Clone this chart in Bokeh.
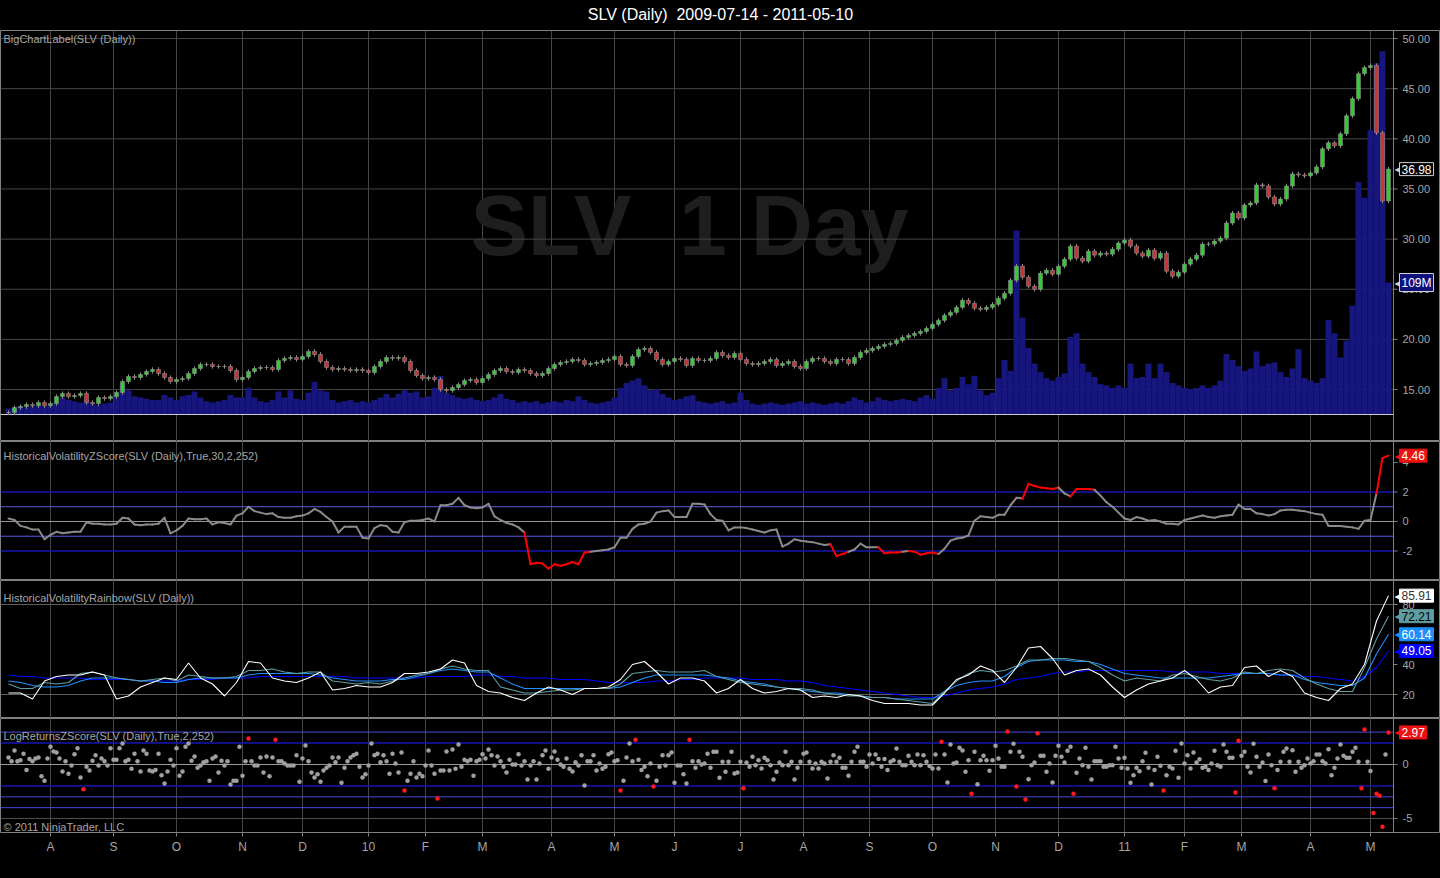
from bokeh.plotting import figure
from bokeh.models import Range1d, FixedTicker, Span, Label
from bokeh.layouts import column
from bokeh.embed import file_html
from bokeh.resources import INLINE
from bokeh.core.properties import value

# ---------------- data ----------------
title_text = "SLV (Daily) \u00a02009-07-14 - 2011-05-10"
month_ticks = [14, 35, 56, 78, 98, 120, 139, 158, 181, 202, 222, 244, 265, 287,
               308, 329, 350, 372, 392, 411, 434, 454]
month_labels = ["A", "S", "O", "N", "D", "10", "F", "M", "A", "M", "J", "J", "A", "S",
                "O", "N", "D", "11", "F", "M", "A", "M"]
price_ticks = [15, 20, 25, 30, 35, 40, 45, 50]
price_labels = ["15.00", "20.00", "25.00", "30.00", "35.00", "40.00", "45.00", "50.00"]
zs_ticks = [4, 2, 0, -2]
zs_labels = ["4", "2", "0", "-2"]
hv_ticks = [20, 40, 80]
hv_labels = ["20", "40", "80"]
lr_ticks = [0, -5]
lr_labels = ["0", "-5"]

# bar index of each (two-day) candle
bar_x = list(range(0, 461, 2))
closes = [
    12.7, 13.2, 13.3, 13.5, 13.4, 13.7, 13.4, 13.6, 14.3, 14.6,
    14.3, 14.4, 14.6, 13.7, 13.6, 14.2, 14.1, 14.3, 14.7, 15.8,
    16.3, 16.2, 16.5, 16.8, 17.0, 16.6, 16.2, 15.8, 16.0, 16.1,
    16.6, 17.1, 17.5, 17.5, 17.3, 17.3, 17.3, 16.9, 16.0, 16.2,
    16.8, 17.1, 17.2, 17.2, 17.0, 17.9, 18.1, 18.2, 18.0, 18.3,
    18.8, 18.5, 17.8, 17.2, 17.0, 17.1, 17.0, 16.9, 17.0, 16.9,
    16.7, 17.3, 17.8, 18.2, 18.1, 18.2, 17.8, 16.9, 16.4, 16.1,
    16.2, 16.0, 15.0, 14.9, 15.2, 15.5, 15.9, 16.0, 15.7, 16.1,
    16.5, 16.9, 17.1, 16.8, 16.7, 17.0, 16.9, 16.6, 16.4, 16.6,
    17.1, 17.5, 17.7, 17.8, 18.0, 17.9, 17.5, 17.6, 17.7, 17.9,
    18.0, 18.3, 17.5, 17.4, 18.3, 19.0, 19.1, 18.7, 18.0, 17.5,
    17.8, 18.1, 18.0, 17.4, 18.1, 17.9, 17.9, 18.1, 18.7, 18.4,
    18.2, 18.6, 18.0, 17.6, 17.5, 17.6, 17.8, 18.0, 17.4, 17.6,
    17.8, 17.3, 17.1, 17.8, 18.1, 18.1, 17.8, 17.6, 18.0, 18.0,
    17.6, 18.2, 18.7, 18.9, 19.1, 19.3, 19.5, 19.6, 19.9, 20.2,
    20.4, 20.6, 20.8, 21.1, 21.5, 21.9, 22.4, 22.7, 23.2, 23.9,
    23.6, 23.1, 23.0, 23.2, 23.5, 24.1, 24.6, 25.9, 27.3, 26.2,
    25.3, 25.0, 26.6, 26.9, 26.5, 27.3, 28.0, 29.3, 28.1, 27.8,
    28.8, 28.4, 28.6, 28.5, 29.0, 29.6, 29.9, 29.3, 28.6, 28.3,
    28.9, 28.1, 28.6, 26.8, 26.3, 26.7, 27.5, 28.0, 28.4, 29.5,
    29.5, 29.8, 30.1, 31.6, 32.6, 32.1, 33.4, 33.6, 35.4, 35.3,
    34.2, 33.5, 34.0, 35.3, 36.5, 36.4, 36.3, 36.6, 37.2, 39.0,
    39.6, 39.3, 40.5, 42.3, 44.0, 46.5, 47.1, 47.3, 40.6, 33.8,
    36.98,
]
volume_m = [
    5, 6, 7, 6, 7, 8, 7, 9, 10, 14,
    12, 11, 10, 12, 9, 8, 9, 10, 18, 25,
    20, 15, 14, 13, 12, 12, 16, 14, 12, 15,
    16, 19, 14, 11, 10, 11, 12, 16, 14, 14,
    22, 14, 11, 10, 12, 19, 14, 20, 13, 12,
    18, 27, 20, 19, 12, 10, 11, 12, 10, 11,
    10, 12, 14, 17, 14, 17, 20, 18, 19, 14,
    15, 22, 32, 18, 16, 14, 13, 14, 12, 11,
    12, 14, 17, 13, 12, 10, 11, 10, 11, 9,
    10, 11, 10, 12, 11, 15, 12, 10, 9, 10,
    11, 14, 22, 26, 28, 30, 24, 20, 21, 17,
    14, 12, 13, 15, 16, 11, 10, 9, 10, 11,
    9, 10, 18, 12, 9, 8, 9, 10, 9, 8,
    9, 10, 11, 9, 10, 9, 8, 9, 10, 9,
    11, 14, 12, 10, 11, 14, 12, 11, 12, 13,
    12, 11, 14, 16, 13, 22, 30, 20, 22, 31,
    25, 32, 20, 16, 18, 30, 45, 36, 152, 80,
    55, 42, 35, 30, 28, 31, 34, 64, 67, 42,
    35, 31, 25, 24, 22, 24, 22, 42, 30, 31,
    42, 30, 42, 35, 26, 24, 22, 21, 22, 24,
    22, 24, 28, 50, 45, 40, 36, 38, 52, 40,
    42, 43, 35, 31, 38, 54, 30, 28, 26, 30,
    78, 67, 47, 61, 90, 192, 179, 235, 290, 300,
    109,
]
# HistoricalVolatilityZScore, same two-day steps as bar_x
hv_zscore = [
    0.2, 0.1, -0.3, -0.4, -0.55, -0.55, -1.2, -0.9, -0.7, -0.8,
    -0.75, -0.7, -0.7, -0.05, -0.15, -0.15, -0.2, -0.2, -0.15, 0.25,
    0.2, -0.2, -0.25, -0.2, -0.2, -0.15, 0.25, -0.8, -0.6, -0.3,
    0.2, 0.15, 0.15, 0.2, -0.2, -0.05, -0.1, -0.2, 0.4, 0.55,
    1.0, 0.7, 0.6, 0.5, 0.55, 0.3, 0.25, 0.25, 0.35, 0.4,
    0.55, 0.85, 0.65, 0.3, 0.0, -0.75, -0.35, -0.35, -0.35, -1.1,
    -1.15, -0.45, -0.25, -0.3, -0.7, -0.75, -0.05, 0.05, 0.05, 0.1,
    0.2, 0.0, 1.1, 1.1, 1.2, 1.6, 1.1, 0.95, 0.9, 0.95,
    1.2, 0.35, 0.1, -0.1, -0.2, -0.4, -0.75, -2.9, -2.8, -2.85,
    -3.2, -2.9, -3.0, -2.9, -2.75, -2.9, -2.1, -2.05, -2.0, -1.95,
    -1.9, -1.75, -1.1, -1.1, -0.5, -0.2, -0.15, 0.0, 0.6, 0.7,
    0.75, 0.3, 0.3, 0.3, 1.2, 1.2, 1.15, 0.5, 0.1, 0.05,
    -0.6, -0.4, -0.4, -0.45, -0.55, -0.65, -0.75, -0.6, -0.55, -1.7,
    -1.5, -1.2, -1.3, -1.35, -1.4, -1.5, -1.6, -1.55, -2.35, -2.2,
    -2.05, -1.9, -1.5, -1.75, -1.75, -1.75, -2.15, -2.1, -2.1, -2.05,
    -2.0, -2.05, -2.25, -2.15, -2.1, -2.2, -1.85, -1.3, -1.15, -1.1,
    -0.95, 0.05, 0.35, 0.3, 0.25, 0.45, 0.45, 1.1, 1.6, 1.55,
    2.55, 2.4, 2.3, 2.25, 2.2, 2.3, 1.9, 1.7, 2.2, 2.2,
    2.2, 2.15, 1.75, 1.3, 1.0, 0.6, 0.2, 0.1, 0.3, 0.2,
    0.05, 0.1, 0.0, -0.15, -0.15, -0.2, 0.1, 0.2, 0.3, 0.4,
    0.3, 0.25, 0.35, 0.4, 0.45, 1.15, 0.85, 0.85, 0.55, 0.5,
    0.4, 0.5, 0.75, 0.8, 0.8, 0.75, 0.7, 0.6, 0.5, 0.45,
    -0.3, -0.3, -0.3, -0.35, -0.4, -0.5, 0.05, 0.1, 1.9, 4.3,
    4.46,
]
# HistoricalVolatilityRainbow, four-day steps
rb_x = list(range(0, 461, 4))
hv_white = [
    21, 21, 17, 29, 32, 33, 33, 35, 33, 17,
    19, 25, 28, 31, 30, 41, 31, 27, 19, 28,
    42, 41, 31, 29, 28, 31, 35, 23, 24, 26,
    25, 25, 28, 34, 34, 35, 37, 43, 41, 26,
    22, 21, 18, 16, 21, 25, 23, 20, 24, 24,
    25, 30, 40, 42, 35, 27, 31, 31, 29, 21,
    24, 30, 24, 21, 22, 24, 23, 18, 19, 18,
    20, 19, 16, 14, 14, 14, 13, 13, 21, 30,
    33, 39, 36, 28, 38, 51, 52, 44, 33, 36,
    37, 33, 25, 18, 23, 27, 29, 31, 36, 30,
    21, 25, 26, 38, 39, 32, 36, 32, 21, 18,
    16, 24, 27, 40, 69, 85.91,
]
hv_cadet = [
    27, 24, 24, 28, 27, 28, 34, 35, 33, 31,
    30, 29, 30, 31, 29, 33, 32, 31, 31, 32,
    36, 36, 37, 35, 34, 35, 35, 29, 28, 27,
    28, 27, 29, 31, 33, 34, 37, 39, 37, 36,
    36, 25, 23, 21, 21, 22, 23, 23, 24, 24,
    24, 27, 34, 35, 36, 35, 35, 35, 36, 32,
    30, 28, 27, 26, 25, 24, 24, 23, 21, 20,
    19, 19, 18, 18, 17, 16, 15, 14, 22, 29,
    34, 36, 35, 36, 39, 43, 43, 44, 44, 43,
    42, 38, 33, 29, 31, 30, 29, 33, 34, 32,
    30, 29, 31, 35, 34, 36, 37, 36, 31, 27,
    24, 22, 22, 38, 57, 72.21,
]
hv_dodger = [
    29, 28, 26, 25, 25, 26, 29, 31, 31, 31,
    30, 29, 29, 28, 28, 30, 31, 31, 31, 31,
    33, 34, 34, 34, 34, 34, 33, 31, 30, 29,
    29, 29, 30, 30, 32, 34, 36, 37, 36, 35,
    35, 31, 27, 24, 24, 24, 24, 24, 24, 24,
    24, 25, 28, 31, 33, 33, 33, 33, 33, 32,
    31, 29, 28, 27, 25, 24, 23, 22, 21, 21,
    20, 19, 18, 18, 17, 17, 17, 17, 22, 26,
    28, 29, 29, 32, 38, 42, 43, 43, 43, 42,
    42, 40, 37, 34, 33, 32, 31, 31, 31, 31,
    31, 32, 33, 34, 34, 34, 33, 33, 30, 28,
    27, 26, 26, 31, 47, 60.14,
]
hv_blue = [
    33, 32, 32, 31, 31, 31, 31, 30, 30, 30,
    30, 29, 29, 29, 29, 30, 30, 30, 31, 31,
    31, 32, 32, 32, 32, 32, 32, 32, 32, 31,
    31, 31, 31, 31, 31, 32, 32, 32, 32, 33,
    33, 32, 32, 31, 31, 31, 30, 30, 30, 29,
    28, 28, 28, 28, 29, 29, 30, 30, 31, 31,
    31, 31, 30, 30, 30, 29, 29, 28, 26, 25,
    24, 23, 22, 21, 20, 19, 18, 18, 19, 21,
    23, 24, 25, 27, 30, 31, 32, 34, 35, 35,
    36, 36, 36, 36, 36, 36, 36, 35, 35, 35,
    35, 34, 34, 34, 34, 34, 33, 33, 32, 32,
    31, 30, 29, 32, 38, 49.05,
]
# LogReturnsZScore, one value per trading day
lr_zscore = [
    0.65, 0.3, 1.3, 0.3, 0.4, 1.0, -0.5, 0.5, 0.3, 0.55,
    0.65, -1.1, -1.5, 0.55, 1.65, 1.2, 1.1, 0.55, -0.65, 0.3,
    -0.85, -0.1, 0.95, 1.5, -1.2, -2.3, -0.2, -0.55, 0.35, 0.85,
    -0.1, 0.55, 0.3, -0.1, 1.5, 0.45, 0.45, 1.5, 1.95, 0.3,
    0.45, -0.4, 1.0, 0.3, -0.65, 1.3, 1.0, -0.55, -0.65, -0.5,
    1.0, -1.0, -1.75, -0.65, 0.45, -0.1, 1.5, -1.05, -0.65, 1.65,
    1.95, 0.35, 0.75, -0.3, -0.1, 0.2, 0.3, -1.5, 0.55, 0.75,
    -0.75, 0.35, -0.1, 0.3, -1.85, -1.5, -1.5, 1.65, -1.05, 0.3,
    2.4, 0.3, -0.1, -0.1, 0.65, -0.75, 0.75, -1.1, 0.65, 2.3,
    0.3, 0.3, 0.1, -0.1, -0.1, -0.1, 0.85, -1.6, 0.55, 1.75,
    0.3, -0.75, -1.2, -0.9, -1.6, -0.55, -0.3, -0.1, 0.65, 0.2,
    0.65, -1.7, -0.3, 0.3, 0.65, 0.85, 1.0, -0.2, -1.2, -0.9,
    -0.1, 1.95, 0.85, 1.0, 0.2, 0.85, 0.3, -0.85, 1.0, 0.1,
    -0.75, 1.1, -2.4, -1.5, -0.85, 0.3, -1.2, -0.85, -1.1, -0.1,
    1.3, -0.1, -0.85, -3.15, -0.55, -0.55, 1.2, -0.55, 1.4, -0.4,
    1.85, -0.2, 0.45, 0.3, 0.45, -1.05, 0.3, 0.45, 0.95, 0.55,
    1.4, 0.85, -0.1, 0.75, 0.3, -0.2, -0.75, 0.45, 0.0, 0.0,
    0.95, -0.1, 0.3, -1.4, -0.1, 0.3, -1.4, 0.1, 0.85, 1.3,
    -0.4, 0.65, 1.2, 0.45, 0.0, -0.2, 0.55, -0.4, -0.65, 0.2,
    -0.1, 0.85, -1.95, 0.3, 0.3, 0.85, -0.55, 0.1, -0.4, -0.2,
    0.95, 1.1, 0.3, 0.4, -2.4, -1.5, 0.65, 1.95, 0.3, 2.3,
    0.45, -0.5, -0.2, -1.1, 0.1, -2.05, -1.5, -0.2, 0.85, -0.1,
    0.85, 1.1, -1.7, -0.1, -0.1, -0.9, -1.75, 2.3, 0.3, -0.3,
    0.3, 0.0, 0.1, 1.0, -0.3, 1.17, 1.17, -1.23, 0.25, -0.68,
    0.25, 1.17, -0.83, -0.74, 0.25, -2.2, 0.19, -0.22, 0.71, -0.06,
    0.4, -0.37, 0.62, 0.4, -0.06, -1.39, -0.68, 0.19, -0.06, 1.17,
    -0.06, 0.25, -1.39, -0.3, 0.25, 1.0, 1.1, 0.25, -0.37, 0.1,
    -0.37, 0.25, 0.1, -1.3, 0.25, 0.86, 0.25, 0.62, -0.3, -0.3,
    -1.05, 0.25, 1.17, 1.64, 0.25, 0.25, -0.22, 0.93, 0.1, 0.93,
    0.5, -0.22, 0.5, -0.52, 0.25, 0.4, 1.48, 0.25, -0.06, -0.06,
    0.8, 0.25, -0.06, 0.93, -0.06, 0.86, 0.25, -0.15, -0.37, 0.93,
    -0.37, 2.1, 0.93, -1.67, 1.85, 0.1, 0.19, 1.54, 1.3, -0.68,
    0.4, -2.7, 1.17, -1.82, 0.4, 0.8, 0.4, -0.59, 0.4, 1.73,
    0.56, -0.22, -0.22, 3.05, 1.17, 1.91, -2.05, 1.17, 0.71, -3.25,
    -1.36, -0.06, 0.19, 2.9, 0.8, 0.8, -0.68, 0.1, -1.67, 0.8,
    1.73, 0.71, 0.19, 1.27, 1.64, -2.7, -0.77, 0.56, -0.06, 1.54,
    -0.22, -1.39, 0.31, 0.31, 0.31, -0.22, -0.22, -0.06, -0.06, 1.64,
    0.56, -0.31, 0.62, -0.37, -1.7, -0.99, -0.31, -0.62, 0.31, 1.08,
    -0.31, -1.85, -0.52, 0.71, -0.12, -2.4, -0.99, -0.22, -0.37, 1.27,
    -1.23, 1.94, 0.1, 0.86, -0.37, 1.11, 0.19, 0.49, -0.31, -0.22,
    -0.52, 0.1, 1.27, -0.06, -0.22, 1.85, 1.17, 0.62, 0.62, -2.6,
    2.2, 0.8, 1.17, -0.22, -0.74, 1.91, 0.71, -0.22, 0.19, -1.54,
    0.93, -0.06, -2.2, -0.52, 0.25, 1.17, 1.48, 0.25, 1.33, -0.68,
    0.25, -0.31, -0.06, 0.56, 0.1, 0.31, 0.93, 0.93, 0.31, 0.1,
    1.42, -0.99, -0.31, 0.56, 1.85, 0.8, 0.62, 0.62, 1.17, 1.54,
    0.25, -2.2, 3.25, 0.25, -0.6, -4.5, -2.7, -2.9, -5.77, 0.93,
    2.97,
]
lr_x = list(range(len(lr_zscore)))

# ---------------- styling / layout ----------------
FONT = "Liberation Sans"
GRID = "#464646"
AXC = "#808080"
LBL = "#a6a6a6"
FRAME_W = 1440          # full page width; the value scale is drawn by hand on the right
AXIS_PX = 1393          # x pixel of the value-scale line
SCALE = 3.0             # pixels per bar
X0 = -8 / SCALE
X1 = X0 + FRAME_W / SCALE
AX = X0 + AXIS_PX / SCALE
xr = Range1d(X0, X1)


def px_to_x(px):
    return X0 + px / SCALE


def from_top(r, h, px):
    return r.end - px * (r.end - r.start) / h


def make(fh, yr, top=0, bottom=0, xaxis=False, title=None):
    kw = dict(frame_width=FRAME_W, frame_height=fh, x_range=xr, y_range=yr,
              output_backend="svg", toolbar_location=None, y_axis_location=None,
              x_axis_location="below" if xaxis else None,
              min_border_left=0, min_border_right=0, min_border_top=top,
              min_border_bottom=bottom)
    if title is not None:
        kw["title"] = title
    p = figure(**kw)
    p.background_fill_color = "#000000"
    p.border_fill_color = "#000000"
    p.outline_line_color = AXC
    p.xgrid.ticker = FixedTicker(ticks=month_ticks)
    p.xgrid.grid_line_color = GRID
    p.ygrid.grid_line_color = None
    return p


def value_scale(p, ticks, labels):
    n = len(ticks)
    p.add_layout(Span(location=AX, dimension="height", line_color=AXC, line_width=1))
    p.segment(x0=[AX] * n, y0=ticks, x1=[AX + 4 / SCALE] * n, y1=ticks,
              line_color=AXC, line_width=1)
    p.text(x=[AX + 9 / SCALE] * n, y=ticks, text=labels, text_color=LBL,
           text_font=value(FONT), text_font_size=value("11px"),
           text_align="left", text_baseline="middle")


def hlines(p, levels, color, width, rng="default"):
    n = len(levels)
    p.segment(x0=[X0] * n, y0=levels, x1=[AX] * n, y1=levels, line_color=color,
              line_width=width, y_range_name=rng)


def name_label(p, yr, fh, off, text):
    p.add_layout(Label(x=px_to_x(3), y=from_top(yr, fh, off), text=text,
                       text_color=LBL, text_font=FONT, text_font_size="11px",
                       text_baseline="middle", text_align="left"))


def tag(p, yv, text, bg, fg, border, rng="default"):
    p.add_layout(Label(x=px_to_x(AXIS_PX + 1), y=yv, y_range_name=rng, text="\u25C0",
                       text_font="DejaVu Sans", text_font_size="12px",
                       text_color=border, text_baseline="middle", text_align="left"))
    p.add_layout(Label(x=px_to_x(AXIS_PX + 6), y=yv, y_range_name=rng, text=text,
                       text_color=fg, text_font=FONT, text_font_size="12px",
                       background_fill_color=bg, border_line_color=border,
                       text_baseline="middle", text_align="left", padding=2))


H1, H2, H3, H4 = 411, 139, 138, 114

# ---- panel 1: price + volume ----
yr1 = Range1d(9.82, 50.80)
p1 = make(H1, yr1, top=30, title=title_text)
p1.title.align = "center"
p1.title.vertical_align = "top"
p1.title.text_color = "#ffffff"
p1.title.text_font = FONT
p1.title.text_font_size = "16px"
p1.title.text_font_style = "normal"
p1.title.standoff = 11
p1.extra_y_ranges = {"vol": Range1d(-22.3, 317.1)}
hlines(p1, price_ticks, GRID, 1)

p1.add_layout(Label(x=px_to_x(689), y=from_top(yr1, H1, 194), text="SLV \u00a01 Day",
                    text_color="#1e1e1e", text_font=FONT, text_font_size="86px",
                    text_font_style="bold", text_align="center",
                    text_baseline="alphabetic", level="underlay"))

p1.vbar(x=bar_x, width=2.0, bottom=0, top=volume_m, y_range_name="vol",
        fill_color="#16167c", line_color=None)
hlines(p1, [0], "#cfcfcf", 1, rng="vol")

opens = [closes[0]] + closes[:-1]
WICK = 0.22
body_top = [max(o, c) for o, c in zip(opens, closes)]
body_bot = [min(o, c) for o, c in zip(opens, closes)]
candle_col = ["#33cc33" if c > o else ("#cc3333" if c < o else "#8c8c8c")
              for o, c in zip(opens, closes)]
p1.segment(x0=bar_x, y0=[b - WICK for b in body_bot], x1=bar_x,
           y1=[t + WICK for t in body_top], line_color="#8c8c8c", line_width=1)
p1.vbar(x=bar_x, width=1.3, top=body_top, bottom=body_bot, fill_color=candle_col,
        line_color="#8f8f8f", line_width=0.6)
value_scale(p1, price_ticks, price_labels)
name_label(p1, yr1, H1, 8, "BigChartLabel(SLV (Daily))")
tag(p1, closes[-1], f"{closes[-1]:.2f}", "#000000", "#ffffff", "#d0d0d0")
tag(p1, volume_m[-1], f"{volume_m[-1]}M", "#10107a", "#ffffff", "#d0d0d0", rng="vol")

# ---- panel 2: historical volatility z-score ----
yr2 = Range1d(-4.0, 5.42)
p2 = make(H2, yr2)
hlines(p2, [2, -2], "#1414b4", 1.5)
hlines(p2, [1, -1], "#5a5ae6", 1)
hlines(p2, [0], "#9a9a9a", 1)
seg_col = ["#ff0000" if abs(b) > 2 else "#8a8a8a" for b in hv_zscore[1:]]
p2.segment(x0=bar_x[:-1], y0=hv_zscore[:-1], x1=bar_x[1:], y1=hv_zscore[1:],
           line_color=seg_col, line_width=2, line_cap="round")
value_scale(p2, zs_ticks, zs_labels)
name_label(p2, yr2, H2, 14, "HistoricalVolatilityZScore(SLV (Daily),True,30,2,252)")
tag(p2, hv_zscore[-1], f"{hv_zscore[-1]:.2f}", "#ee1111", "#ffffff", "#ee1111")

# ---- panel 3: historical volatility rainbow ----
yr3 = Range1d(4, 96)
p3 = make(H3, yr3)
hlines(p3, [20, 80], "#5e5e5e", 1)
p3.line(rb_x, hv_blue, line_color="#0000ff", line_width=1.1)
p3.line(rb_x, hv_dodger, line_color="#1e90ff", line_width=1.1)
p3.line(rb_x, hv_cadet, line_color="#5f9ea0", line_width=1.1)
p3.line(rb_x, hv_white, line_color="#ffffff", line_width=1.1)
value_scale(p3, hv_ticks, hv_labels)
name_label(p3, yr3, H3, 17, "HistoricalVolatilityRainbow(SLV (Daily))")
tag(p3, hv_white[-1], f"{hv_white[-1]:.2f}", "#ffffff", "#333333", "#ffffff")
tag(p3, hv_cadet[-1], f"{hv_cadet[-1]:.2f}", "#5f9ea0", "#000000", "#5f9ea0")
tag(p3, hv_dodger[-1], f"{hv_dodger[-1]:.2f}", "#1e90ff", "#ffffff", "#1e90ff")
tag(p3, hv_blue[-1], f"{hv_blue[-1]:.2f}", "#0000ff", "#ffffff", "#0000ff")

# ---- panel 4: log returns z-score ----
yr4 = Range1d(-6.30, 4.26)
p4 = make(H4, yr4, bottom=46, xaxis=True)
hlines(p4, [-5], "#505050", 1)
hlines(p4, [3, -3, -4], "#4848e0", 1)
hlines(p4, [2, -2], "#1414b4", 1.5)
hlines(p4, [0], "#9a9a9a", 1)
dot_col = ["#ff1a1a" if abs(v) > 2 else "#a0a0a0" for v in lr_zscore]
p4.scatter(lr_x, lr_zscore, size=4.5, fill_color=dot_col, line_color=None)
value_scale(p4, lr_ticks, lr_labels)
name_label(p4, yr4, H4, 17, "LogReturnsZScore(SLV (Daily),True,2,252)")
name_label(p4, yr4, H4, 108, "\u00a9 2011 NinjaTrader, LLC")
tag(p4, lr_zscore[-1], f"{lr_zscore[-1]:.2f}", "#ee1111", "#ffffff", "#ee1111")

xa = p4.xaxis[0]
xa.ticker = FixedTicker(ticks=month_ticks)
xa.major_label_overrides = dict(zip(month_ticks, month_labels))
xa.axis_line_color = None
xa.major_tick_line_color = AXC
xa.major_tick_out = 4
xa.major_tick_in = 0
xa.minor_tick_line_color = None
xa.major_label_standoff = 3
xa.major_label_text_color = LBL
xa.major_label_text_font = FONT
xa.major_label_text_font_size = "12px"

layout = column(p1, p2, p3, p4, spacing=0)
html = file_html(layout, INLINE, title="SLV (Daily)")
html = html.replace("</head>",
                    "<style>html,body{margin:0;padding:0;background:#000000;}</style></head>", 1)
open("out.html", "w").write(html)
